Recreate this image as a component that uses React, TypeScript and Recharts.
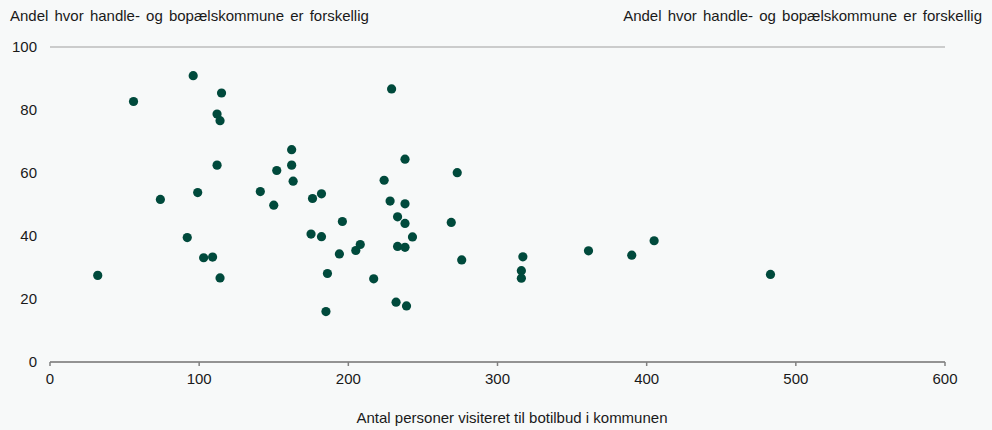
import React from "react";
import {
  ScatterChart, Scatter, XAxis, YAxis, CartesianGrid,
} from "recharts";

// antal personer visiteret til botilbud (x) og andel i pct. (y)
const visiteret = [
  32, 56, 74, 92, 96, 99, 103, 109, 112, 114, 115, 112, 114,
  141, 150, 152, 162, 162, 163, 176, 182, 175, 182, 196, 194,
  205, 208, 186, 185, 217, 232, 239, 238, 224, 228, 238, 233,
  238, 243, 233, 238, 229, 273, 269, 276, 317, 316, 316, 361,
  390, 405, 483,
];
const andel = [
  27.5, 82.7, 51.6, 39.5, 90.9, 53.8, 33.1, 33.3, 78.7, 76.6, 85.4, 62.5, 26.7,
  54.1, 49.8, 60.8, 67.4, 62.5, 57.4, 51.9, 53.4, 40.6, 39.8, 44.6, 34.3,
  35.4, 37.3, 28.1, 16.0, 26.4, 19.0, 17.8, 64.4, 57.7, 51.1, 50.2, 46.1,
  44.0, 39.7, 36.7, 36.4, 86.7, 60.1, 44.3, 32.4, 33.4, 29.0, 26.6, 35.3,
  33.9, 38.5, 27.8,
];
const xTicks = [0, 100, 200, 300, 400, 500, 600];
const yTicks = [0, 20, 40, 60, 80, 100];

const yTitle = "Andel hvor handle- og bopælskommune er forskellig";
const xTitle = "Antal personer visiteret til botilbud i kommunen";

const data = visiteret.map((x, i) => ({ x, y: andel[i] }));

const font = "'Liberation Sans', Arial, sans-serif";
const tickStyle = { fontSize: 15, fill: "#1a1a1a", fontFamily: font };
const titleStyle: React.CSSProperties = {
  position: "absolute", top: 7, fontSize: 15, color: "#1a1a1a", wordSpacing: 2, whiteSpace: "nowrap",
};

const Dot = (p: any) => <circle cx={p.cx} cy={p.cy} r={4.6} fill="#004A3C" />;

export default function App() {
  return (
    <div style={{ position: "relative", width: 992, height: 430, background: "#F7F9F9", fontFamily: font }}>
      <style>{"body{margin:0}"}</style>
      <div style={{ ...titleStyle, left: 10 }}>{yTitle}</div>
      <div style={{ ...titleStyle, right: 10 }}>{yTitle}</div>
      <div style={{ position: "absolute", left: 512, top: 409, transform: "translateX(-50%)", fontSize: 15, color: "#1a1a1a", whiteSpace: "nowrap" }}>
        {xTitle}
      </div>
      <ScatterChart width={992} height={430} margin={{ top: 47, right: 0, bottom: 0, left: 10 }}>
        <CartesianGrid horizontal vertical={false} stroke="#BDBDBD" strokeWidth={1.5} />
        <XAxis
          type="number" dataKey="x" domain={[0, 600]} ticks={xTicks}
          height={68} tick={tickStyle}
          stroke="#808080" strokeWidth={1.5} tickSize={4} tickMargin={7}
        />
        <YAxis
          yAxisId="l" type="number" dataKey="y" domain={[0, 100]} ticks={yTicks}
          width={40} tick={{ ...tickStyle, textAnchor: "end" }}
          axisLine={false} tickLine={false} tickSize={0} tickMargin={13}
        />
        <YAxis
          yAxisId="r" orientation="right" type="number" domain={[0, 100]} ticks={yTicks}
          width={47} tick={{ ...tickStyle, textAnchor: "start" }}
          axisLine={false} tickLine={false} tickSize={0} tickMargin={16}
        />
        <Scatter yAxisId="l" data={data} shape={Dot} isAnimationActive={false} />
      </ScatterChart>
    </div>
  );
}
